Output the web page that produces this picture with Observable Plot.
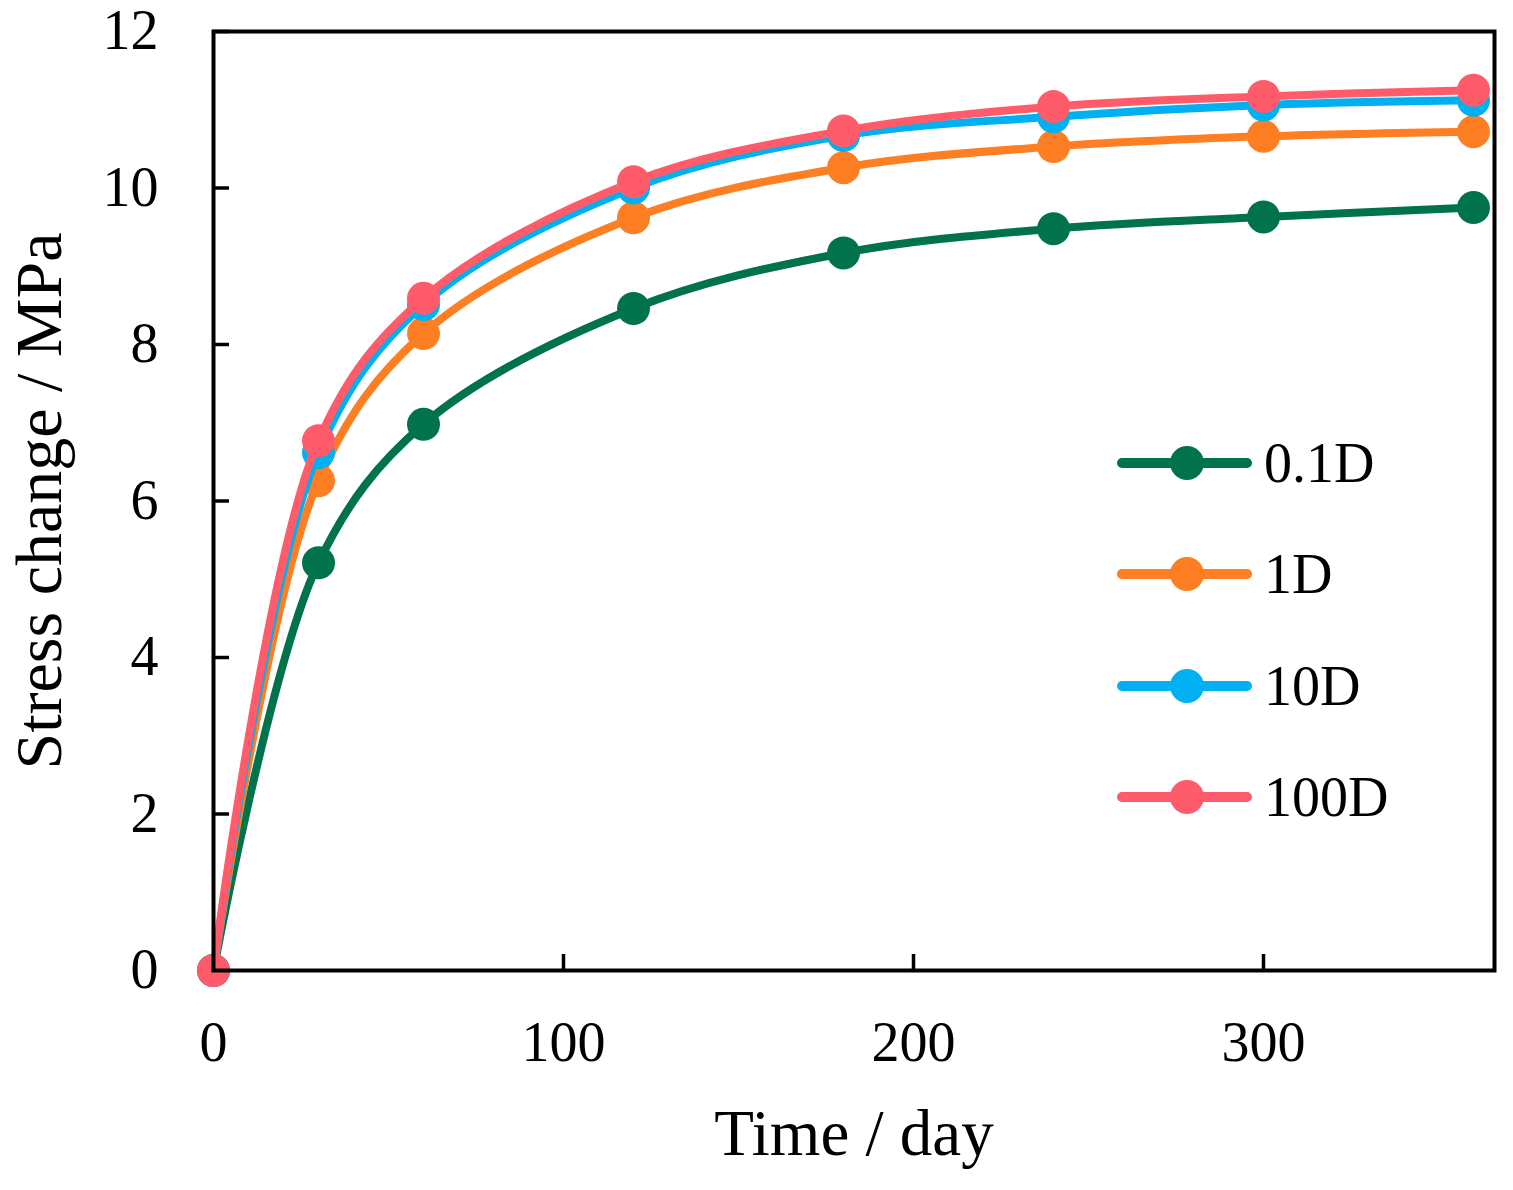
<!DOCTYPE html>
<html>
<head>
<meta charset="utf-8">
<script src="https://cdn.jsdelivr.net/npm/d3@7"></script>
<script src="https://cdn.jsdelivr.net/npm/@observablehq/plot@0.6"></script>
<style>
  html, body { margin: 0; padding: 0; background: #fff; }
  #wrap { position: relative; width: 1513px; height: 1190px; }
  #legend { position: absolute; left: 1117px; top: 0; font-family: "Liberation Serif", "Times New Roman", serif; font-size: 56px; color: #000; }
  .row { position: absolute; left: 0; display: flex; align-items: center; white-space: nowrap; }
  .row svg { display: block; }
  .row span { margin-left: 12px; line-height: 1; }
</style>
</head>
<body>
<div id="wrap"><div id="legend"></div></div>
<script>
const days = [0, 30, 60, 120, 180, 240, 300, 360];
const seriesNames = ["0.1D", "1D", "10D", "100D"];
const s01D  = [0, 5.21, 6.98, 8.46, 9.17, 9.48, 9.63, 9.75];
const s1D   = [0, 6.26, 8.14, 9.62, 10.26, 10.53, 10.66, 10.72];
const s10D  = [0, 6.62, 8.51, 10.00, 10.67, 10.91, 11.06, 11.12];
const s100D = [0, 6.77, 8.59, 10.08, 10.73, 11.04, 11.17, 11.25];
const seriesColors = ["#00734d", "#fd7e23", "#00b0f0", "#ff5b6b"];
const xTicks = [0, 100, 200, 300];
const yTicks = [0, 2, 4, 6, 8, 10, 12];

const allSeries = [s01D, s1D, s10D, s100D];
const rows = [];
allSeries.forEach((vals, i) => vals.forEach((v, j) => rows.push({series: seriesNames[i], day: days[j], stress: v})));

const W = 1513, H = 1190, mL = 213, mR = 19, mT = 31, mB = 220;
const plotW = W - mL - mR, plotH = H - mT - mB;

const marks = [];
seriesNames.forEach((name, i) => {
  const d = rows.filter(r => r.series === name);
  marks.push(Plot.line(d, {x: "day", y: "stress", stroke: seriesColors[i], strokeWidth: 8, curve: "catmull-rom"}));
  marks.push(Plot.dot(d, {x: "day", y: "stress", fill: seriesColors[i], r: 16.5}));
});

const chart = Plot.plot({
  width: W, height: H,
  marginLeft: mL, marginRight: mR, marginTop: mT, marginBottom: mB,
  style: {fontFamily: "'Liberation Serif', 'Times New Roman', serif", color: "#000", background: "#fff", overflow: "visible"},
  x: {domain: [0, 366]},
  y: {domain: [0, 12]},
  marks: [
    Plot.tickY(yTicks, {y: d => d, stroke: "#000", strokeWidth: 3.5, insetRight: plotW - 16}),
    Plot.tickX(xTicks, {x: d => d, stroke: "#000", strokeWidth: 3.5, insetTop: plotH - 16}),
    Plot.axisX(xTicks, {tickSize: 0, tickPadding: 51, fontSize: 56, tickFormat: d3.format("d"), label: null}),
    Plot.axisY(yTicks, {tickSize: 0, tickPadding: 55, fontSize: 56, tickFormat: d3.format("d"), label: null}),
    Plot.axisX([], {tickSize: 0, label: "Time / day", labelAnchor: "center", labelArrow: "none", labelOffset: 184, dx: -5, fontSize: 65}),
    Plot.axisY([], {tickSize: 0, label: "Stress change / MPa", labelAnchor: "center", labelArrow: "none", labelOffset: 199, fontSize: 66}),
    ...marks,
    Plot.frame({stroke: "#000", strokeWidth: 4})
  ]
});
document.getElementById("wrap").prepend(chart);

// legend
const legend = document.getElementById("legend");
const rowYs = [463, 574, 686, 797];
seriesNames.forEach((name, i) => {
  const row = document.createElement("div");
  row.className = "row";
  row.style.top = (rowYs[i] - 30) + "px";
  row.style.height = "60px";
  const ns = "http://www.w3.org/2000/svg";
  const svg = document.createElementNS(ns, "svg");
  svg.setAttribute("width", 135); svg.setAttribute("height", 60);
  const ln = document.createElementNS(ns, "line");
  ln.setAttribute("x1", 5); ln.setAttribute("x2", 130); ln.setAttribute("y1", 30); ln.setAttribute("y2", 30);
  ln.setAttribute("stroke", seriesColors[i]); ln.setAttribute("stroke-width", 10); ln.setAttribute("stroke-linecap", "round");
  const c = document.createElementNS(ns, "circle");
  c.setAttribute("cx", 70); c.setAttribute("cy", 30); c.setAttribute("r", 17); c.setAttribute("fill", seriesColors[i]);
  svg.append(ln, c);
  const sp = document.createElement("span");
  sp.textContent = name;
  row.append(svg, sp);
  legend.append(row);
});
</script>
</body>
</html>
